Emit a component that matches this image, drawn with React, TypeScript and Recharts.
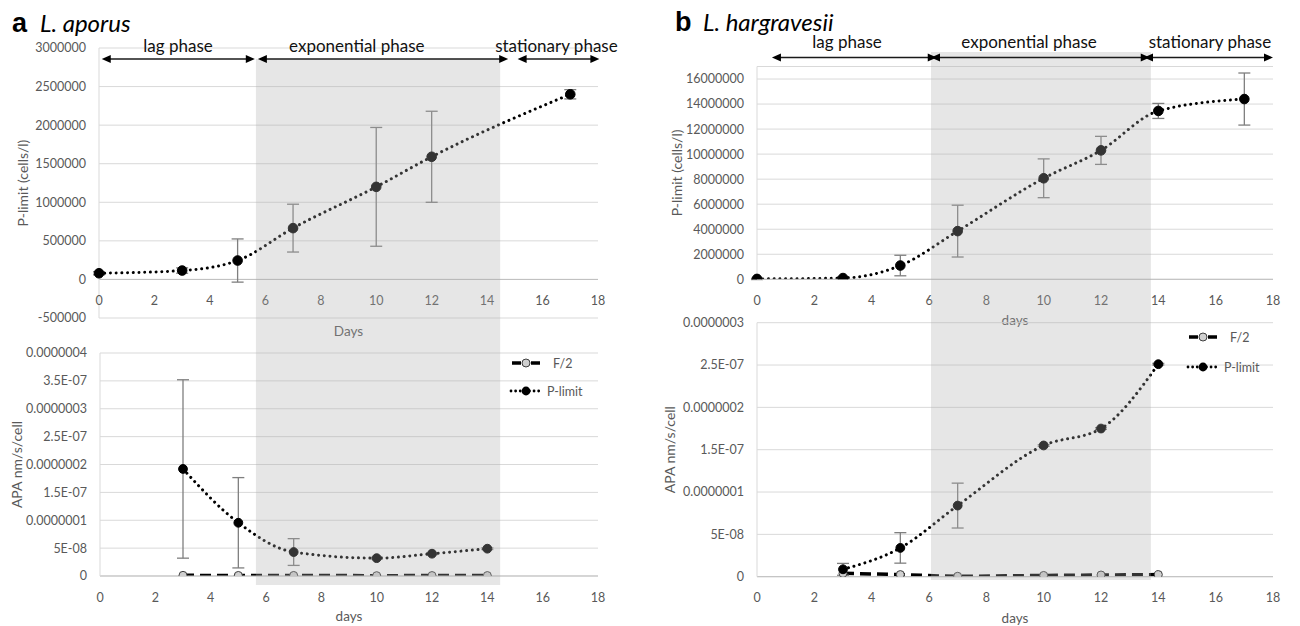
import React from 'react';
import {
  ComposedChart,
  Line,
  XAxis,
  YAxis,
  CartesianGrid,
  ErrorBar,
  ReferenceArea,
  ReferenceLine,
  Legend
} from 'recharts';

// ---------- shared ----------
const FONT = 'Lato, "Open Sans", sans-serif';
const TEXT = '#595959';
const GRID = '#d9d9d9';
const AXIS = '#bfbfbf';

const DAY_TICKS = [0, 2, 4, 6, 8, 10, 12, 14, 16, 18];

// ---------- panel a: L. aporus ----------
const A_CELL_DAYS = [0, 3, 5, 7, 10, 12, 17];
const A_CELL_PLIMIT = [80000, 115000, 245000, 665000, 1200000, 1590000, 2400000];
const A_CELL_ERR = [20000, 35000, 280000, 310000, 770000, 590000, 60000];
const A_CELL_TICKS = [-500000, 0, 500000, 1000000, 1500000, 2000000, 2500000, 3000000];

const A_APA_DAYS = [3, 5, 7, 10, 12, 14];
const A_APA_F2 = [1.2e-9, 1.0e-9, 1.0e-9, 0.6e-9, 0.8e-9, 0.8e-9];
const A_APA_PLIMIT = [1.92e-7, 9.55e-8, 4.3e-8, 3.2e-8, 4.0e-8, 4.9e-8];
const A_APA_ERR = [1.6e-7, 8.1e-8, 2.4e-8, 1.5e-9, 1.5e-9, 1.5e-9];
const A_APA_TICKS = [0, 5e-8, 1e-7, 1.5e-7, 2e-7, 2.5e-7, 3e-7, 3.5e-7, 4e-7];
const A_APA_LABELS = ['0', '5E-08', '0.0000001', '1.5E-07', '0.0000002', '2.5E-07', '0.0000003', '3.5E-07', '0.0000004'];

const A_SHADE = [5.66, 14.47];
const A_PHASES = [
  { name: 'lag phase', from: 0.1, to: 5.62, labelAt: 2.85 },
  { name: 'exponential phase', from: 5.73, to: 14.76, labelAt: 9.3 },
  { name: 'stationary phase', from: 15.1, to: 18.05, labelAt: 16.5 }
];

// ---------- panel b: L. hargravesii ----------
const B_CELL_DAYS = [0, 3, 5, 7, 10, 12, 14, 17];
const B_CELL_PLIMIT = [30000, 100000, 1100000, 3850000, 8070000, 10300000, 13450000, 14400000];
const B_CELL_ERR = [50000, 100000, 820000, 2070000, 1550000, 1120000, 600000, 2080000];
const B_CELL_TICKS = [0, 2000000, 4000000, 6000000, 8000000, 10000000, 12000000, 14000000, 16000000];

const B_APA_DAYS = [3, 5, 7, 10, 12, 14];
const B_APA_F2 = [4e-9, 2.5e-9, 0.5e-9, 1.5e-9, 2e-9, 2.5e-9];
const B_APA_PLIMIT = [8.7e-9, 3.4e-8, 8.4e-8, 1.55e-7, 1.75e-7, 2.51e-7];
const B_APA_ERR = [7e-9, 1.8e-8, 2.65e-8, 1e-9, 1e-9, 1e-9];
const B_APA_TICKS = [0, 5e-8, 1e-7, 1.5e-7, 2e-7, 2.5e-7, 3e-7];
const B_APA_LABELS = ['0', '5E-08', '0.0000001', '1.5E-07', '0.0000002', '2.5E-07', '0.0000003'];

const B_SHADE = [6.07, 13.74];
const B_PHASES = [
  { name: 'lag phase', from: 0.52, to: 6.27, labelAt: 3.14 },
  { name: 'exponential phase', from: 6.07, to: 13.7, labelAt: 9.49 },
  { name: 'stationary phase', from: 13.5, to: 18.0, labelAt: 15.8 }
];

// ---------- helpers ----------
const cellRows = (days: number[], vals: number[], errs: number[]) =>
  days.map((d, i) => ({ day: d, plimit: vals[i], err: errs[i] }));

const apaRows = (days: number[], f2: number[], pl: number[], errs: number[]) =>
  days.map((d, i) => ({ day: d, f2: f2[i], plimit: pl[i], err: errs[i] }));

const DayTick = ({ x, y, payload, shift }: any) => (
  <text x={x} y={y + shift} textAnchor="middle" dominantBaseline="central" fill={TEXT} fontSize={12.5} fontFamily={FONT}>
    {payload.value}
  </text>
);

const XTitle = ({ viewBox, text, dy }: any) => {
  if (!viewBox) return null;
  return (
    <text x={viewBox.x + viewBox.width / 2} y={viewBox.y + dy} textAnchor="middle" dominantBaseline="central" fill={TEXT} fontSize={13.5} fontFamily={FONT}>
      {text}
    </text>
  );
};

const YTitle = ({ viewBox, text, px }: any) => {
  if (!viewBox) return null;
  const cy = viewBox.y + viewBox.height / 2;
  return (
    <text transform={`translate(${px},${cy}) rotate(-90)`} textAnchor="middle" dominantBaseline="central" fill={TEXT} fontSize={14} fontFamily={FONT}>
      {text}
    </text>
  );
};

const makeDot = (r: number, fill: string, stroke: string) => (p: any) => (
  <circle key={`dot-${p.index}`} cx={p.cx} cy={p.cy} r={r} fill={fill} stroke={stroke} strokeWidth={1} />
);

const DOTTED = { strokeWidth: 3, strokeDasharray: '0.01 5.7', strokeLinecap: 'round' as const };

// legend with the two series symbols
const SeriesKey = ({ gap }: { gap: number }) => (
  <div style={{ fontFamily: FONT, fontSize: 12.5, color: TEXT }}>
    <div style={{ display: 'flex', alignItems: 'center', height: gap }}>
      <svg width={34} height={12}>
        <line x1={3} y1={6} x2={12} y2={6} stroke="#000" strokeWidth={3.5} />
        <line x1={22} y1={6} x2={31} y2={6} stroke="#000" strokeWidth={3.5} />
        <circle cx={17} cy={6} r={4} fill="#d0d0d0" stroke="#404040" strokeWidth={1} />
      </svg>
      <span style={{ marginLeft: 10 }}>F/2</span>
    </div>
    <div style={{ display: 'flex', alignItems: 'center', height: gap }}>
      <svg width={34} height={12}>
        <line x1={2} y1={6} x2={33} y2={6} stroke="#000" strokeLinecap="round" strokeWidth={2.8} strokeDasharray="0.01 4.6" />
        <circle cx={17} cy={6} r={4.4} fill="#000" />
      </svg>
      <span style={{ marginLeft: 4 }}>P-limit</span>
    </div>
  </div>
);

// ---------- charts ----------
function CellsChart(p: any) {
  const { box } = p;
  return (
    <div style={{ position: 'absolute', left: box.left, top: box.top }}>
      <ComposedChart width={box.width} height={box.height} data={p.data} margin={p.margin}>
        <CartesianGrid vertical={false} stroke={GRID} />
        <XAxis
          dataKey="day"
          type="number"
          domain={[0, 18]}
          ticks={DAY_TICKS}
          interval={0}
          height={p.xHeight}
          axisLine={p.zeroAxis ? false : { stroke: AXIS }}
          tickLine={false}
          tickSize={0}
          tick={<DayTick shift={p.tickShift} />}
          label={<XTitle text={p.xTitle} dy={p.titleDy} />}
        />
        <YAxis
          type="number"
          domain={p.domain}
          ticks={p.ticks}
          interval={0}
          allowDataOverflow
          width={p.yWidth}
          axisLine={{ stroke: GRID }}
          tickLine={false}
          tickSize={0}
          tickMargin={13}
          tick={{ fill: TEXT, fontSize: 12.5, fontFamily: FONT }}
          tickFormatter={(v: number) => String(v)}
          label={<YTitle text="P-limit  (cells/l)" px={p.yTitleX} />}
        />
        {p.zeroAxis && <ReferenceLine y={0} stroke={AXIS} strokeWidth={1} />}
        <Line
          dataKey="plimit"
          type="monotone"
          stroke="#000"
          {...DOTTED}
          dot={makeDot(4.8, '#000', '#000')}
          activeDot={false}
          isAnimationActive={false}
        >
          <ErrorBar dataKey="err" width={6} stroke="#7f7f7f" strokeWidth={1.3} isAnimationActive={false} />
        </Line>
      </ComposedChart>
    </div>
  );
}

function ApaChart(p: any) {
  const { box } = p;
  return (
    <div style={{ position: 'absolute', left: box.left, top: box.top }}>
      <ComposedChart width={box.width} height={box.height} data={p.data} margin={p.margin}>
        <CartesianGrid vertical={false} stroke={GRID} />
        <XAxis
          dataKey="day"
          type="number"
          domain={[0, 18]}
          ticks={DAY_TICKS}
          interval={0}
          height={p.xHeight}
          axisLine={{ stroke: AXIS }}
          tickLine={false}
          tickSize={0}
          tick={<DayTick shift={p.tickShift} />}
          label={<XTitle text="days" dy={p.titleDy} />}
        />
        <YAxis
          type="number"
          domain={p.domain}
          ticks={p.ticks}
          interval={0}
          allowDataOverflow
          width={p.yWidth}
          axisLine={{ stroke: GRID }}
          tickLine={false}
          tickSize={0}
          tickMargin={13}
          tick={{ fill: TEXT, fontSize: 12.5, fontFamily: FONT }}
          tickFormatter={(v: number) => p.labels[p.ticks.indexOf(v)] ?? String(v)}
          label={<YTitle text="APA nm/s/cell" px={p.yTitleX} />}
        />
        <Legend
          layout="vertical"
          align="center"
          verticalAlign="middle"
          content={() => <SeriesKey gap={p.legendGap} />}
          wrapperStyle={{ left: p.legendPos.left, top: p.legendPos.top, width: 110 }}
        />
        <Line
          dataKey="f2"
          name="F/2"
          type="monotone"
          stroke="#000"
          strokeWidth={3.5}
          strokeDasharray="11 6"
          dot={makeDot(4, '#d0d0d0', '#404040')}
          activeDot={false}
          isAnimationActive={false}
        />
        <Line
          dataKey="plimit"
          name="P-limit"
          type="monotone"
          stroke="#000"
          {...DOTTED}
          dot={makeDot(4.4, '#000', '#000')}
          activeDot={false}
          isAnimationActive={false}
        >
          <ErrorBar dataKey="err" width={6} stroke="#7f7f7f" strokeWidth={1.3} isAnimationActive={false} />
        </Line>
      </ComposedChart>
    </div>
  );
}

const PhaseArrow = (props: any) => {
  const { x1, x2, y1, drop, labelDy, phase } = props;
  const y = y1 + drop;
  const h = 9;
  const w = 4;
  const lx = x1 + ((phase.labelAt - phase.from) / (phase.to - phase.from)) * (x2 - x1);
  return (
    <g>
      <line x1={x1 + h - 1} y1={y} x2={x2 - h + 1} y2={y} stroke="#1a1a1a" strokeWidth={1.5} />
      <polygon points={`${x1},${y} ${x1 + h},${y - w} ${x1 + h},${y + w}`} fill="#000" />
      <polygon points={`${x2},${y} ${x2 - h},${y - w} ${x2 - h},${y + w}`} fill="#000" />
      <text x={lx} y={y + labelDy} textAnchor="middle" dominantBaseline="central" fontSize={17} fontFamily={FONT} fill="#111">
        {phase.name}
      </text>
    </g>
  );
};

// grey band for the exponential phase + phase arrows, drawn over both plots
function PhaseOverlay(p: any) {
  const { box } = p;
  return (
    <div style={{ position: 'absolute', left: box.left, top: box.top, pointerEvents: 'none' }}>
      <ComposedChart width={box.width} height={box.height} data={[{ day: 0 }, { day: 18 }]} margin={p.margin}>
        <XAxis dataKey="day" type="number" domain={[0, 18]} allowDataOverflow hide />
        <YAxis type="number" domain={[0, 1]} allowDataOverflow hide />
        <ReferenceArea x1={p.shade[0]} x2={p.shade[1]} y1={0} y2={1} fill="#adadad" fillOpacity={0.3} stroke="none" ifOverflow="visible" />
        {p.phases.map((ph: any) => (
          <ReferenceLine
            key={ph.name}
            segment={[{ x: ph.from, y: 1 }, { x: ph.to, y: 1 }]}
            ifOverflow="visible"
            shape={(lp: any) => <PhaseArrow {...lp} phase={ph} drop={p.drop} labelDy={p.labelDy} />}
          />
        ))}
      </ComposedChart>
    </div>
  );
}

export default function App() {
  const aCells = cellRows(A_CELL_DAYS, A_CELL_PLIMIT, A_CELL_ERR);
  const bCells = cellRows(B_CELL_DAYS, B_CELL_PLIMIT, B_CELL_ERR);
  const aApa = apaRows(A_APA_DAYS, A_APA_F2, A_APA_PLIMIT, A_APA_ERR);
  const bApa = apaRows(B_APA_DAYS, B_APA_F2, B_APA_PLIMIT, B_APA_ERR);

  return (
    <div style={{ position: 'absolute', left: 0, top: 0, width: 1300, height: 626, background: '#fff', fontFamily: FONT, overflow: 'hidden' }}>
      {/* panel titles */}
      <svg width={1300} height={45} style={{ position: 'absolute', left: 0, top: 0 }}>
        <text x={12} y={32} fontFamily='"Liberation Sans", Arial, sans-serif' fontWeight="bold" fontSize={27} fill="#000">a</text>
        <text x={40} y={32} fontFamily={FONT} fontStyle="italic" fontSize={24} fill="#000">L. aporus</text>
        <text x={675} y={31} fontFamily='"Liberation Sans", Arial, sans-serif' fontWeight="bold" fontSize={27} fill="#000">b</text>
        <text x={703} y={31} fontFamily={FONT} fontStyle="italic" fontSize={24} fill="#000">L. hargravesii</text>
      </svg>

      {/* a: cell density */}
      <CellsChart
        box={{ left: 0, top: 0, width: 620, height: 345 }}
        margin={{ top: 48, right: 22, left: 0, bottom: 0 }}
        data={aCells}
        domain={[-500000, 3000000]}
        ticks={A_CELL_TICKS}
        yWidth={99}
        xHeight={27}
        zeroAxis
        tickShift={-20}
        xTitle="Days"
        titleDy={13}
        yTitleX={22}
      />
      {/* a: APA */}
      <ApaChart
        box={{ left: 0, top: 345, width: 620, height: 281 }}
        margin={{ top: 8, right: 22, left: 0, bottom: 0 }}
        data={aApa}
        domain={[0, 4e-7]}
        ticks={A_APA_TICKS}
        labels={A_APA_LABELS}
        yWidth={100}
        xHeight={50}
        tickShift={19}
        titleDy={40}
        yTitleX={16}
        legendGap={28}
        legendPos={{ left: 509, top: 4 }}
      />

      {/* b: cell density */}
      <CellsChart
        box={{ left: 650, top: 0, width: 640, height: 345 }}
        margin={{ top: 66.5, right: 17, left: 0, bottom: 0 }}
        data={bCells}
        domain={[0, 17000000]}
        ticks={B_CELL_TICKS}
        yWidth={107}
        xHeight={65.7}
        tickShift={19}
        xTitle="days"
        titleDy={41}
        yTitleX={26}
      />
      {/* b: APA */}
      <ApaChart
        box={{ left: 650, top: 310, width: 640, height: 316 }}
        margin={{ top: 12.7, right: 17, left: 0, bottom: 0 }}
        data={bApa}
        domain={[0, 3e-7]}
        ticks={B_APA_TICKS}
        labels={B_APA_LABELS}
        yWidth={107}
        xHeight={49.3}
        tickShift={18.5}
        titleDy={41}
        yTitleX={19}
        legendGap={30}
        legendPos={{ left: 536, top: 12 }}
      />

      {/* phase shading and arrows */}
      <PhaseOverlay
        box={{ left: 0, top: 0, width: 620, height: 626 }}
        margin={{ top: 59, right: 22, left: 99, bottom: 41 }}
        shade={A_SHADE}
        phases={A_PHASES}
        drop={0}
        labelDy={-14}
      />
      <PhaseOverlay
        box={{ left: 650, top: 0, width: 640, height: 626 }}
        margin={{ top: 52, right: 17, left: 107, bottom: 46 }}
        shade={B_SHADE}
        phases={B_PHASES}
        drop={5.5}
        labelDy={-16.5}
      />
    </div>
  );
}
